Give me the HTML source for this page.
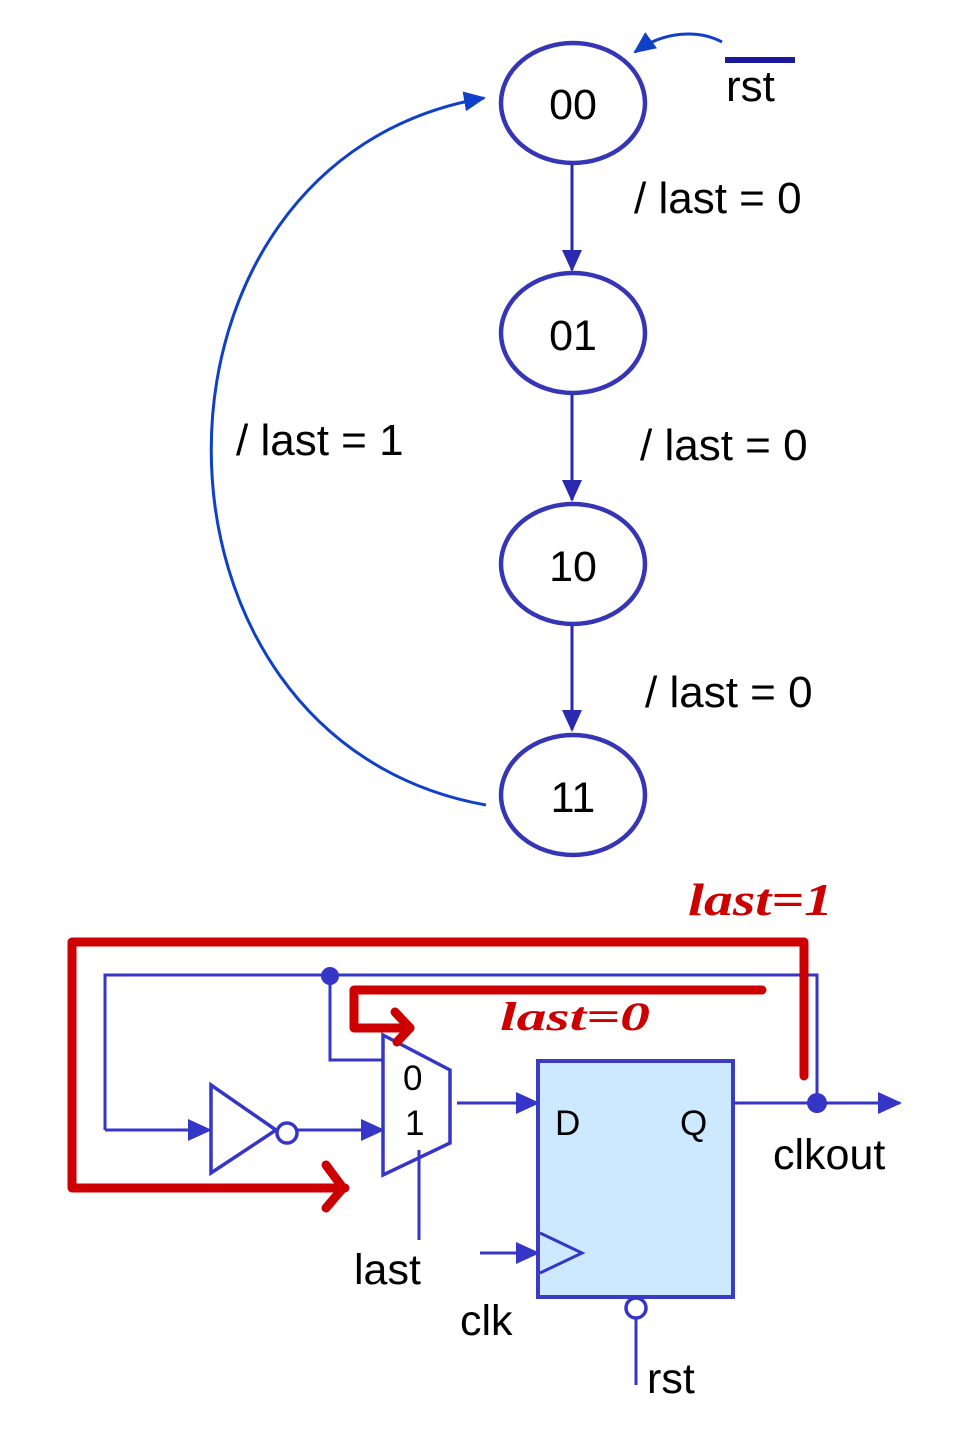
<!DOCTYPE html>
<html><head><meta charset="utf-8"><style>
html,body{margin:0;padding:0;background:#fff;}
svg{display:block;}
text{font-family:"Liberation Sans",sans-serif;fill:#000;}
text.r{font-family:"Liberation Serif",serif;font-style:italic;font-weight:bold;fill:#cc0000;}
</style></head><body>
<svg width="957" height="1440" viewBox="0 0 957 1440" xmlns="http://www.w3.org/2000/svg">
<defs>
<marker id="b" markerWidth="22" markerHeight="20" refX="20" refY="10" orient="auto" markerUnits="userSpaceOnUse"><path d="M0,0 L22,10 L0,20 z" fill="#2a2ab0"/></marker>
<marker id="c" markerWidth="22" markerHeight="20" refX="20" refY="10" orient="auto" markerUnits="userSpaceOnUse"><path d="M0,0 L22,10 L0,20 z" fill="#1040c8"/></marker>
<marker id="d" markerWidth="24" markerHeight="22" refX="22" refY="11" orient="auto" markerUnits="userSpaceOnUse"><path d="M0,0 L24,11 L0,22 z" fill="#3535c8"/></marker>
</defs>
<g fill="none" stroke="#3535b5" stroke-width="4.5">
<ellipse cx="573" cy="103" rx="72" ry="60"/>
<ellipse cx="573" cy="333" rx="72" ry="60"/>
<ellipse cx="573" cy="564" rx="72" ry="60"/>
<ellipse cx="573" cy="795" rx="72" ry="60"/>
</g>
<g stroke="#2a2ab0" stroke-width="3">
<line x1="572" y1="165" x2="572" y2="270" marker-end="url(#b)"/>
<line x1="572" y1="395" x2="572" y2="500" marker-end="url(#b)"/>
<line x1="572" y1="626" x2="572" y2="730" marker-end="url(#b)"/>
</g>
<path d="M486,805 C120,740 120,160 484,98" fill="none" stroke="#1040c8" stroke-width="3" marker-end="url(#c)"/>
<path d="M722,42 C700,30 665,30 635,52" fill="none" stroke="#1040c8" stroke-width="3" marker-end="url(#c)"/>
<line x1="725" y1="60" x2="795" y2="60" stroke="#1a1a9a" stroke-width="6"/>
<g font-size="43">
<text x="573" y="119" text-anchor="middle">00</text>
<text x="573" y="350" text-anchor="middle">01</text>
<text x="573" y="581" text-anchor="middle">10</text>
<text x="573" y="812" text-anchor="middle">11</text>
</g>
<g font-size="44">
<text x="726" y="101">rst</text>
<text x="634" y="213">/ last = 0</text>
<text x="640" y="460">/ last = 0</text>
<text x="645" y="707">/ last = 0</text>
<text x="236" y="455">/ last = 1</text>
</g>
<rect x="538" y="1061" width="195" height="236" fill="#cce9ff" stroke="#3b3bc4" stroke-width="4"/>
<g fill="none" stroke="#3535c8" stroke-width="3">
<polyline points="105,1130 105,975 817,975 817,1103"/>
<line x1="105" y1="1130" x2="210" y2="1130" marker-end="url(#d)"/>
<polyline points="330,975 330,1060 383,1060"/>
<polygon points="211,1085 211,1173 276,1130" stroke-width="3.5"/>
<circle cx="287" cy="1133" r="10" stroke-width="3.5"/>
<line x1="297" y1="1130" x2="383" y2="1130" marker-end="url(#d)"/>
<polygon points="383,1035 450,1070 450,1143 383,1175" stroke-width="3.5"/>
<line x1="457" y1="1103" x2="538" y2="1103" marker-end="url(#d)"/>
<line x1="733" y1="1103" x2="900" y2="1103" marker-end="url(#d)"/>
<line x1="419" y1="1150" x2="419" y2="1240"/>
<line x1="480" y1="1253" x2="538" y2="1253" marker-end="url(#d)"/>
<polyline points="540,1233 582,1253 540,1273"/>
<circle cx="636" cy="1308" r="10" stroke-width="3.5"/>
<line x1="636" y1="1318" x2="636" y2="1385"/>
</g>
<circle cx="330" cy="976" r="9" fill="#3535c8"/>
<circle cx="817" cy="1103" r="10" fill="#3535c8"/>
<g fill="none" stroke="#cc0000" stroke-width="9" stroke-linecap="round" stroke-linejoin="round">
<polyline points="804,1076 804,942 72,942 72,1188 345,1188"/>
<polyline points="326,1165 343,1188 326,1208"/>
<polyline points="762,990 354,990 354,1028 410,1028"/>
<polyline points="395,1012 410,1028 397,1042"/>
</g>
<text class="r" x="688" y="915" font-size="46" textLength="145" lengthAdjust="spacingAndGlyphs">last=1</text>
<text class="r" x="500" y="1030" font-size="40" textLength="150" lengthAdjust="spacingAndGlyphs">last=0</text>
<g font-size="35">
<text x="403" y="1090">0</text>
<text x="405" y="1135">1</text>
<text x="555" y="1135">D</text>
<text x="680" y="1135">Q</text>
</g>
<g font-size="43">
<text x="773" y="1169">clkout</text>
<text x="354" y="1284">last</text>
<text x="460" y="1335">clk</text>
<text x="647" y="1393">rst</text>
</g>
</svg>
</body></html>
